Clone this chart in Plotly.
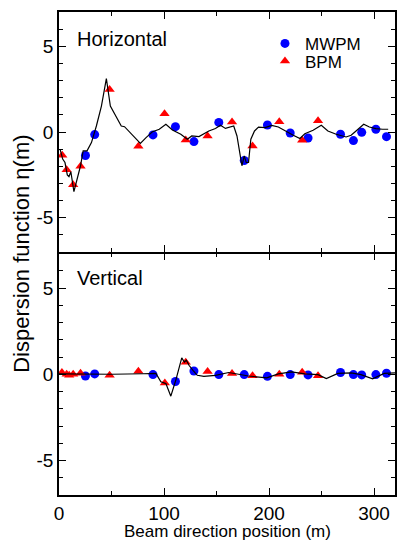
import plotly.graph_objects as go

# ---------------- data ----------------
h_mwpm_x = [25.2, 34, 89.5, 110.9, 128.5, 152.2, 176.4, 198.5, 220.2, 237.2, 268.1, 280.4, 288.3, 301.8, 311.9]
h_mwpm_y = [-1.37, -0.15, -0.17, 0.31, -0.56, 0.56, -1.66, 0.41, -0.06, -0.35, -0.13, -0.5, -0.02, 0.16, -0.27]

h_bpm_x = [3.1, 7.3, 13.5, 20.5, 48.2, 75.6, 100.5, 120.7, 141.5, 164.8, 184.3, 209.8, 231.6, 246.7]
h_bpm_y = [-1.35, -2.2, -3.07, -2.0, 2.48, -0.83, 1.07, -0.46, -0.23, 0.58, -0.81, 0.6, -0.48, 0.66]

h_model_x = [1, 3.5, 5.7, 7.9, 9.5, 11.3, 14.2, 16.7, 20.5, 23, 26.7, 30.9, 35.6, 40.4, 45.1, 48.9,
             52.9, 59.3, 62.4, 70.2, 77.5, 82.9, 89.1, 95.5, 101.8, 108, 116, 122.2, 126.4, 133.3,
             142.7, 149, 153.8, 158.5, 161.6, 166.4, 169.5, 171.7, 174.2, 176.4, 178.3, 180.5, 182.7,
             186.2, 190, 196.3, 202.6, 208.9, 215.2, 223.1, 229.4, 234.1, 242, 249.8, 256.1, 264,
             273.4, 278.2, 282.9, 290.2, 295.6, 301.8, 308.1, 313.5]
h_model_y = [-1.0, -1.58, -1.78, -2.5, -2.6, -2.32, -3.48, -2.9, -1.97, -1.1, -1.1, -0.62, 0.35, 1.51,
             3.12, 1.51, 1.03, 0.35, 0.31, -0.19, -0.66, -0.33, 0.02, 0.16, 0.45, 0.12, -0.13, -0.42,
             -0.23, -0.27, 0.06, 0.2, 0.39, 0.21, 0.26, 0.35, -0.23, -1.0, -1.97, -1.39, -1.78, -1.78,
             -0.42, 0.06, 0.29, 0.26, 0.39, 0.29, 0.06, -0.19, -0.38, -0.1, 0.1, 0.39, 0.06, -0.13,
             -0.29, -0.19, 0.06, 0.45, 0.29, 0.2, 0.16, 0.16]

v_mwpm_x = h_mwpm_x
v_mwpm_y = [-0.1, 0.02, -0.02, -0.42, 0.19, -0.02, -0.02, -0.12, -0.02, -0.04, 0.1, -0.02, -0.04, -0.02, 0.06]

v_bpm_x = [2.8, 7.3, 9.7, 13.5, 20.5, 48.2, 75.6, 100.8, 120.7, 141.5, 164.8, 184.3, 209.8, 231.6, 246.7]
v_bpm_y = [0.1, 0.0, -0.06, 0.0, 0.06, -0.06, 0.17, -0.5, 0.7, 0.16, 0.04, -0.08, 0.0, 0.12, -0.08]

v_model_x = [0, 20, 50, 80, 92.3, 97, 101.8, 106.5, 111.2, 116.9, 119.4, 121.3, 123.8, 127.6, 131.7,
             138, 149, 161.6, 180.5, 197.8, 208.9, 221.5, 234.1, 246.7, 254.6, 265.6, 278.2, 287.6,
             298.7, 309.7, 320]
v_model_y = [0.02, 0.0, 0.0, 0.03, 0.05, -0.44, -0.54, -1.27, -0.35, 0.95, 0.71, 0.81, 0.52, 0.23,
             -0.06, -0.12, -0.06, 0.1, -0.1, -0.21, 0.02, 0.14, 0.02, -0.02, -0.25, 0.05, 0.08, -0.02,
             -0.27, 0.05, 0.08]

x_tickvals = [0, 100, 200, 300]
x_ticktext = ["0", "100", "200", "300"]
y_tickvals = [-5, 0, 5]
y_ticktext = ["-5", "0", "5"]

# ---------------- figure ----------------
FONT = "Liberation Sans, Arial, Helvetica, sans-serif"
BLUE = "#0000ff"
RED = "#ff0000"

fig = go.Figure()

# top panel
fig.add_trace(go.Scatter(x=h_mwpm_x, y=h_mwpm_y, mode="markers", name="MWPM",
                         marker=dict(symbol="circle", size=9, color=BLUE),
                         xaxis="x", yaxis="y", legend="legend"))
fig.add_trace(go.Scatter(x=h_bpm_x, y=h_bpm_y, mode="markers", name="BPM",
                         marker=dict(symbol="triangle-up", size=9, color=RED),
                         xaxis="x", yaxis="y", legend="legend2"))
fig.add_trace(go.Scatter(x=h_model_x, y=h_model_y, mode="lines", showlegend=False,
                         line=dict(color="black", width=1.2), xaxis="x", yaxis="y"))
# bottom panel
fig.add_trace(go.Scatter(x=v_mwpm_x, y=v_mwpm_y, mode="markers", showlegend=False,
                         marker=dict(symbol="circle", size=9, color=BLUE),
                         xaxis="x2", yaxis="y2"))
fig.add_trace(go.Scatter(x=v_bpm_x, y=v_bpm_y, mode="markers", showlegend=False,
                         marker=dict(symbol="triangle-up", size=9, color=RED),
                         xaxis="x2", yaxis="y2"))
fig.add_trace(go.Scatter(x=v_model_x, y=v_model_y, mode="lines", showlegend=False,
                         line=dict(color="black", width=1.2), xaxis="x2", yaxis="y2"))

common_x = dict(range=[0, 320], tickmode="array", tickvals=x_tickvals, ticktext=x_ticktext,
                ticks="inside", ticklen=7, tickwidth=1,
                tickcolor="black", showline=True, linecolor="black", linewidth=1.5,
                mirror="ticks", showgrid=False, zeroline=False,
                minor=dict(ticks="inside", ticklen=4, dtick=50, tick0=0, tickcolor="black", showgrid=False),
                tickfont=dict(family=FONT, size=19, color="black"))
common_y = dict(range=[-7, 7], tickmode="array", tickvals=y_tickvals, ticktext=y_ticktext,
                ticks="inside", ticklen=7, tickwidth=1,
                tickcolor="black", showline=True, linecolor="black", linewidth=1.5,
                mirror="ticks", showgrid=False, zeroline=False,
                minor=dict(ticks="inside", ticklen=4, dtick=1, tick0=0, tickcolor="black", showgrid=False),
                tickfont=dict(family=FONT, size=19, color="black"))

fig.update_layout(
    width=397, height=540,
    margin=dict(l=59, r=0, t=12, b=45),
    plot_bgcolor="white", paper_bgcolor="white",
    font=dict(family=FONT, color="black"),
    xaxis=dict(common_x, domain=[0, 1], anchor="y", showticklabels=False),
    yaxis=dict(common_y, domain=[0.5031, 1], anchor="x"),
    xaxis2=dict(common_x, domain=[0, 1], anchor="y2", matches="x"),
    yaxis2=dict(common_y, domain=[0, 0.5], anchor="x2"),
    legend=dict(x=0.613, y=0.934, xanchor="left", yanchor="middle",
                bgcolor="rgba(0,0,0,0)", borderwidth=0,
                font=dict(family=FONT, size=17, color="black")),
    legend2=dict(x=0.613, y=0.8975, xanchor="left", yanchor="middle",
                 bgcolor="rgba(0,0,0,0)", borderwidth=0,
                 font=dict(family=FONT, size=17, color="black")),
    annotations=[
        dict(text="Horizontal", x=0.047, y=0.944, xref="paper", yref="paper",
             xanchor="left", yanchor="middle", showarrow=False,
             font=dict(family=FONT, size=20, color="black")),
        dict(text="Vertical", x=0.047, y=0.45, xref="paper", yref="paper",
             xanchor="left", yanchor="middle", showarrow=False,
             font=dict(family=FONT, size=20, color="black")),
        dict(text="Dispersion function η(m)", x=-0.112, y=0.5, xref="paper", yref="paper",
             xanchor="center", yanchor="middle", textangle=-90, showarrow=False,
             font=dict(family=FONT, size=22, color="black")),
        dict(text="Beam direction position (m)", x=0.5, y=-0.0766, xref="paper", yref="paper",
             xanchor="center", yanchor="middle", showarrow=False,
             font=dict(family=FONT, size=17, color="black")),
    ],
)

fig.write_html("out.html", config={"displayModeBar": False},
               post_script="document.body.style.margin='0';document.body.style.overflow='hidden';")
